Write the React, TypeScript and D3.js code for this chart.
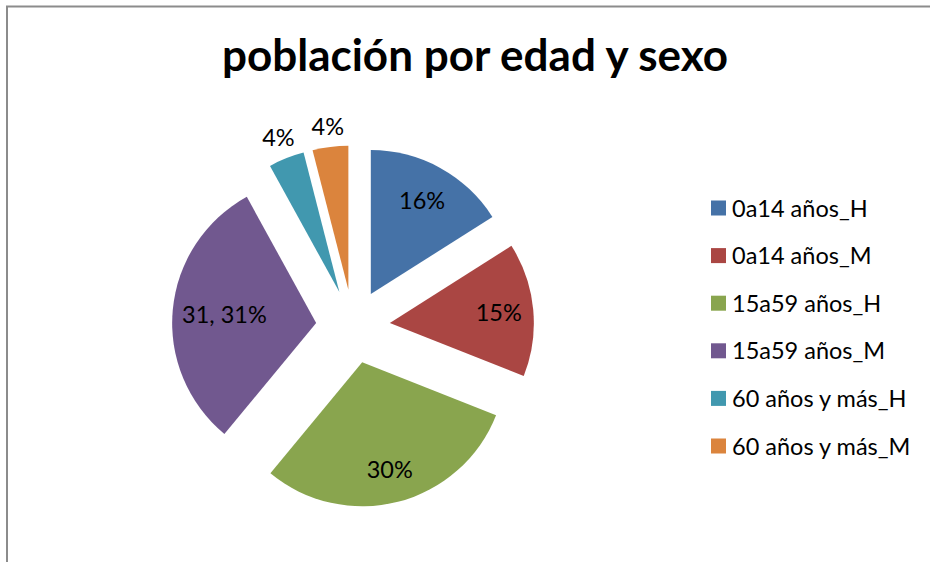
import React from "react";
import * as d3 from "d3";

const categories = [
  "0a14 años_H",
  "0a14 años_M",
  "15a59 años_H",
  "15a59 años_M",
  "60 años y más_H",
  "60 años y más_M",
];
const values = [16, 15, 30, 31, 4, 4];
const colors = ["#4572A7", "#AA4643", "#89A54E", "#71588F", "#4198AF", "#DB843D"];
const showValue = [false, false, false, true, false, false];
const title = "población por edad y sexo";

const W = 930;
const H = 562;
const CX = 353;
const CY = 326.5;
const R = 144;
const EXPLODE = 37;
const labelFactor = [0.74, 0.76, 0.77, 0.64, 1.15, 1.14];
const FONT = "Lato, 'Open Sans', sans-serif";

export default function App() {
  const total = d3.sum(values);
  const pie = d3.pie<number>().sort(null).value((d) => d)(values);
  const arc = d3.arc<d3.PieArcDatum<number>>().innerRadius(0).outerRadius(R);
  const legendY = d3.scaleLinear().domain([0, categories.length - 1]).range([208, 446]);

  return (
    <>
      <style>{`html,body{margin:0;padding:0;overflow:hidden;background:#fff}`}</style>
      <svg width={W} height={H} style={{ display: "block", background: "#fff" }}>
        <path d={`M7,${H}V6.5H${W}`} fill="none" stroke="#8c8c8c" strokeWidth={2} />
        <text x={475} y={71} textAnchor="middle" fontFamily={FONT} fontWeight="bold" fontSize={44} fill="#000">
          {title}
        </text>
        <g transform={`translate(${CX},${CY})`}>
          {pie.map((d, i) => {
            const mid = (d.startAngle + d.endAngle) / 2;
            const ox = Math.sin(mid) * EXPLODE;
            const oy = -Math.cos(mid) * EXPLODE;
            const lr = R * labelFactor[i];
            const lx = ox + Math.sin(mid) * lr;
            const ly = oy - Math.cos(mid) * lr;
            const pct = Math.round((d.value / total) * 100);
            const label = showValue[i] ? `${d.value}, ${pct}%` : `${pct}%`;
            return (
              <g key={i}>
                <path d={arc(d) || ""} transform={`translate(${ox},${oy})`} fill={colors[i]} />
                <text x={lx} y={ly} dy="0.35em" textAnchor="middle" fontFamily={FONT} fontSize={23.5} fill="#000">
                  {label}
                </text>
              </g>
            );
          })}
        </g>
        <g>
          {categories.map((c, i) => (
            <g key={c} transform={`translate(711,${legendY(i)})`}>
              <rect x={0} y={-7.5} width={15} height={15} fill={colors[i]} />
              <text x={21} y={8.5} fontFamily={FONT} fontSize={23.5} fill="#000">
                {c}
              </text>
            </g>
          ))}
        </g>
      </svg>
    </>
  );
}
